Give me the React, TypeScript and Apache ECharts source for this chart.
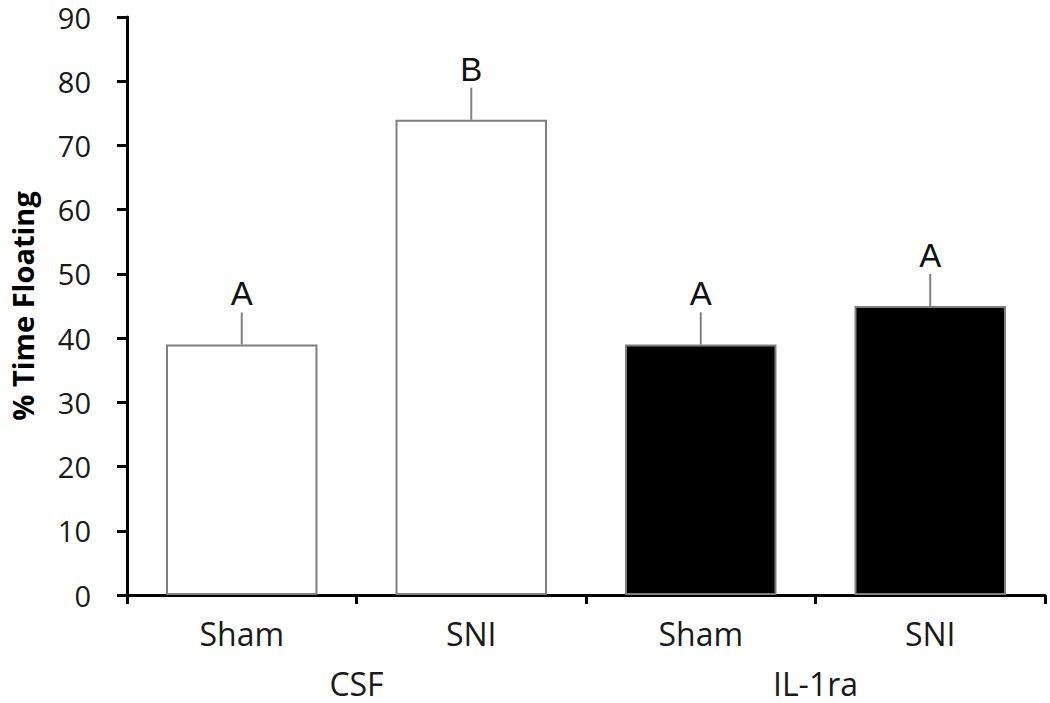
import React, { useEffect, useRef } from "react";
import * as echarts from "echarts";

const categories = ["Sham", "SNI", "Sham", "SNI"];
const groups = ["CSF", "IL-1ra"];
const means = [39, 74, 39, 45];
const errors = [5, 5, 5, 5];
const letters = ["A", "B", "A", "A"];
const fills = ["#ffffff", "#ffffff", "#000000", "#000000"];
const yTicks = { min: 0, max: 90, interval: 10 };

export default function App() {
  const ref = useRef<HTMLDivElement>(null);
  useEffect(() => {
    if (!ref.current) return;
    const chart = echarts.init(ref.current, undefined, { renderer: "svg" });
    const font = "'Open Sans', sans-serif";
    chart.setOption({
      animation: false,
      grid: { left: 127, right: 5, top: 17, bottom: 108, containLabel: false, outerBoundsMode: "none" },
      xAxis: [
        {
          type: "category",
          data: categories,
          position: "bottom",
          axisLine: { lineStyle: { color: "#000", width: 3 } },
          axisTick: { show: true, length: 9, lineStyle: { color: "#000", width: 3 }, alignWithLabel: false },
          axisLabel: { color: "#1a1a1a", fontSize: 32, fontFamily: font, margin: 22 },
        },
        {
          type: "category",
          data: groups,
          position: "bottom",
          offset: 72,
          axisLine: { show: false },
          axisTick: { show: false },
          axisLabel: { color: "#1a1a1a", fontSize: 32, fontFamily: font, margin: 0 },
        },
      ],
      yAxis: {
        type: "value",
        min: yTicks.min,
        max: yTicks.max,
        interval: yTicks.interval,
        name: "% Time Floating",
        nameLocation: "middle",
        nameGap: 90,
        nameRotate: 90,
        nameTextStyle: { color: "#000", fontSize: 29, fontWeight: "bold", fontFamily: font },
        axisLine: { show: true, lineStyle: { color: "#000", width: 3 } },
        axisTick: { show: true, inside: false, length: 10, lineStyle: { color: "#000", width: 3 } },
        axisLabel: { color: "#1a1a1a", fontSize: 29, fontFamily: font, margin: 36 },
        splitLine: { show: false },
      },
      series: [
        {
          type: "bar",
          xAxisIndex: 0,
          barWidth: "66%",
          data: means.map((v, i) => ({
            value: v,
            itemStyle: { color: fills[i], borderColor: "#7f7f7f", borderWidth: 2 },
          })),
          z: 2,
        },
        {
          type: "custom",
          xAxisIndex: 0,
          data: means.map((v, i) => [i, v, v + errors[i]]),
          z: 3,
          renderItem: (params: any, api: any) => {
            const x = api.value(0);
            const base = api.coord([x, api.value(1)]);
            const top = api.coord([x, api.value(2)]);
            const idx = params.dataIndex;
            return {
              type: "group",
              children: [
                {
                  type: "line",
                  shape: { x1: base[0], y1: base[1], x2: top[0], y2: top[1] },
                  style: { stroke: "#808080", lineWidth: 2 },
                },
                {
                  type: "text",
                  style: {
                    text: letters[idx],
                    x: top[0],
                    y: top[1] - 2,
                    textAlign: "center",
                    textVerticalAlign: "bottom",
                    fill: "#111",
                    font: "33px 'Liberation Sans', Arial, sans-serif",
                  },
                },
              ],
            };
          },
        },
      ],
    });
    return () => chart.dispose();
  }, []);
  return <div ref={ref} style={{ width: 1050, height: 703, position: "absolute", left: 0, top: 0 }} />;
}
